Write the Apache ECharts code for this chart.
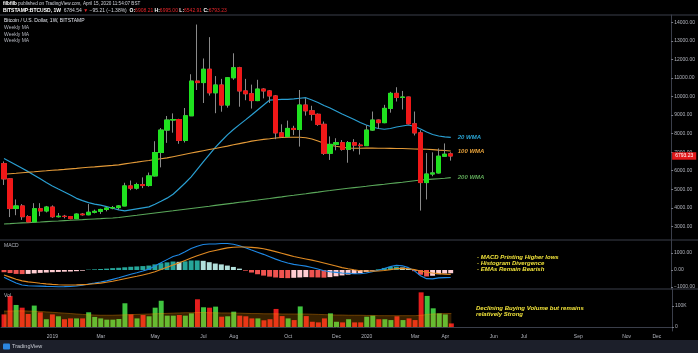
<!DOCTYPE html>
<html>
<head>
<meta charset="utf-8">
<title>BTCUSD 1W</title>
<script src="https://cdn.jsdelivr.net/npm/echarts@6.0.0/dist/echarts.min.js"></script>
<style>
  html, body { margin: 0; padding: 0; background: #000; }
  #chart { width: 698px; height: 353px; }
</style>
</head>
<body>
<div id="chart"></div>
<script>
// Bitstamp BTCUSD weekly bars, first bar = week of 12 Nov 2018
const startWeek = Date.UTC(2018, 10, 12);
const weekCount = 111; // time axis runs on to Dec 2020

const opens = [6380,5560,3960,4100,3520,3240,3950,3830,4040,3520,3545,3530,3415,3660,3625,3760,3810,3910,3990,4010,4100,5180,5060,5250,5200,5720,6980,8190,8730,8760,7630,8960,10830,10750,11470,10200,10620,9540,11010,11550,10300,10150,9780,10400,10300,10030,8040,7850,8280,8220,9540,9230,9040,8500,6940,7420,7510,7150,7510,7380,7350,8190,8730,8590,9360,10170,9950,9970,8530,8040,5360,5820,5880,6780,6908.21];
const highs = [6500,5600,4450,4200,3600,4250,4250,4100,4130,3720,3620,3560,3700,3720,4200,3900,3950,4050,4100,4140,5350,5470,5350,5640,5900,7590,8300,8950,9090,8800,9380,11200,13880,12050,13200,11100,10950,11050,12330,11600,10950,10640,10900,10450,10350,10080,8500,8700,8420,10350,9900,9500,9090,8650,7850,7750,7650,7600,7700,7500,8450,9190,8760,9550,10250,10500,10300,9990,9190,8180,6950,6990,7200,7470,6995.00];
const lows = [5230,3500,3600,3350,3200,3220,3550,3750,3460,3480,3430,3380,3390,3580,3600,3700,3670,3810,3920,3900,4090,4950,4980,5060,5140,5690,6180,7500,8050,7450,7520,8950,10350,9650,10050,9100,9180,9400,10900,9450,9800,9350,9750,9900,9650,7700,7780,7800,7920,7300,8970,8700,8420,6850,6580,7100,7080,6430,7050,6870,7350,8150,8250,8560,9130,9730,9300,8500,7900,3850,4450,5700,5850,6760,6542.91];
const closes = [5560,3960,4100,3520,3240,3950,3830,4040,3520,3545,3530,3415,3660,3625,3760,3810,3910,3990,4010,4100,5180,5060,5250,5200,5720,6980,8190,8730,8760,7630,8960,10830,10750,11470,10200,10620,9540,11010,11550,10300,10150,9780,10400,10300,10030,8040,7850,8280,8220,9540,9230,9040,8500,6940,7420,7510,7150,7510,7380,7350,8190,8730,8590,9360,10170,9950,9970,8530,8040,5360,5820,5880,6780,6888.44,6793.23];

// weekly moving averages as drawn on the chart
const wma20 = [6660,6485,6310,6130,5950,5760,5560,5360,5180,5015,4855,4690,4510,4385,4280,4200,4140,4060,3975,3890,3830,3885,3940,3995,4050,4195,4355,4520,4730,5030,5335,5670,6070,6470,6870,7255,7600,7930,8220,8485,8740,9005,9275,9545,9810,9825,9840,9850,9875,9905,9935,9810,9675,9515,9380,9220,9055,8910,8760,8600,8465,8355,8275,8235,8275,8355,8410,8465,8385,8250,8085,7950,7870,7820,7800];
const wma100 = [5805,5835,5860,5890,5915,5940,5970,5995,6025,6045,6070,6100,6125,6160,6185,6205,6235,6260,6285,6315,6370,6415,6460,6510,6550,6600,6645,6690,6755,6820,6885,6950,7015,7080,7140,7200,7265,7325,7395,7460,7525,7595,7645,7690,7725,7765,7790,7800,7805,7800,7775,7710,7600,7475,7370,7315,7265,7225,7210,7210,7215,7215,7210,7210,7205,7200,7195,7185,7170,7165,7155,7135,7110,7090,7065];
const wma200 = [3130,3145,3165,3185,3200,3220,3235,3255,3275,3290,3310,3325,3345,3360,3380,3400,3415,3435,3450,3475,3515,3555,3595,3640,3680,3720,3760,3800,3840,3885,3925,3965,4005,4045,4085,4130,4170,4210,4250,4295,4335,4380,4420,4465,4505,4550,4590,4635,4675,4720,4760,4805,4845,4890,4930,4975,5015,5055,5090,5125,5160,5200,5235,5270,5310,5345,5380,5420,5460,5495,5520,5545,5570,5595,5625];

// MACD pane
const macdLine = [-430,-600,-770,-880,-930,-940,-950,-965,-975,-985,-980,-970,-945,-900,-823,-770,-710,-640,-550,-460,-350,-250,-160,-60,50,230,430,610,790,900,1070,1260,1400,1500,1530,1530,1560,1560,1515,1430,1315,1180,1050,920,780,640,520,410,330,280,230,150,60,-40,-100,-140,-180,-200,-220,-220,-180,-105,-20,90,200,280,245,140,-50,-340,-510,-520,-465,-450,-445];
const signalLine = [-300,-420,-540,-640,-700,-740,-780,-815,-845,-870,-880,-880,-875,-860,-843,-810,-770,-720,-660,-590,-510,-440,-370,-290,-210,-100,30,160,290,420,560,700,840,960,1070,1150,1230,1300,1335,1350,1355,1330,1300,1250,1170,1080,990,890,790,720,650,580,500,410,320,230,140,70,10,-40,-60,-65,-60,-30,20,80,95,70,20,-60,-130,-180,-215,-240,-255];
const histogram = [-130,-180,-230,-240,-230,-200,-170,-150,-130,-115,-100,-90,-70,-40,20,40,60,80,110,130,160,190,210,230,260,330,400,450,500,480,510,560,560,540,460,380,330,260,180,80,-40,-150,-250,-330,-390,-440,-470,-480,-460,-440,-420,-430,-440,-450,-420,-370,-320,-270,-230,-180,-120,-40,40,120,180,200,150,70,-70,-280,-380,-340,-250,-210,-190];

// volume pane, thousands of BTC
const volumesK = [60,148,105,92,62,102,70,37,60,51,37,41,41,41,70,48,41,35,35,38,113,60,41,57,51,92,125,54,54,57,54,65,132,94,92,97,49,51,73,54,51,41,41,32,37,86,52,41,33,98,52,25,22,41,65,25,22,37,22,22,49,54,37,37,33,51,33,41,33,165,148,89,65,60,17];
const volumeMAK = [76,76,77,77,76,75,74,72,70,68,66,64,62,60,58,57,56,56,56,57,58,59,60,61,62,63,64,65,66,67,68,68,69,69,68,68,67,67,66,66,65,64,64,63,63,63,62,62,62,62,62,61,60,59,58,57,57,56,56,56,55,55,54,54,54,54,54,54,54,56,60,62,63,64,64];

// tick labels
const priceTicks = [3000,4000,5000,6000,7000,8000,9000,10000,11000,12000,13000,14000];
const macdTicks = [-1000,0,1000];
const volumeTicks = [0,100];
const xTickLabels = [
  ["2019-01-07","2019"],["2019-03-04","Mar"],["2019-05-06","May"],["2019-07-01","Jul"],
  ["2019-08-05","Aug"],["2019-10-07","Oct"],["2019-12-02","Dec"],["2020-01-06","2020"],
  ["2020-03-02","Mar"],["2020-04-06","Apr"],["2020-06-01","Jun"],["2020-07-06","Jul"],
  ["2020-09-07","Sep"],["2020-11-02","Nov"],["2020-12-07","Dec"],
];

const upColor = "#1fe21f";
const downColor = "#f01818";
const wickColor = "#8a8a8a";
const axisText = "#b2b5be";
const lineGray = "#3a3e4a";
const noteColor = "#f0e23a";
const font = "Liberation Sans";

let weeks = [];
for (let i = 0; i < weekCount; i++) {
  weeks.push(new Date(startWeek + i * 7 * 864e5).toISOString().slice(0, 10));
}
let tickMap = {};
xTickLabels.forEach((t) => { tickMap[t[0]] = t[1]; });

let wickData = opens.map((o, i) => [o, closes[i], lows[i], highs[i]]);
let bodyData = opens.map((o, i) => [o, closes[i], Math.min(o, closes[i]), Math.max(o, closes[i])]);

let histData = histogram.map((h, i) => {
  let prev = i > 0 ? histogram[i - 1] : h;
  let c;
  if (h >= 0) c = h >= prev ? "#26a69a" : "#b2dfdb";
  else c = h <= prev ? "#ef5350" : "#ffcdd2";
  return { value: h, itemStyle: { color: c } };
});
let volData = volumesK.map((v, i) => ({
  value: v,
  itemStyle: { color: closes[i] >= opens[i] ? "#3fc43f" : "#e41e1e" },
}));

const lastClose = closes[closes.length - 1];

function txt(x, y, text, fill, size, extra) {
  return {
    type: "text", x: x, y: y, silent: true, z: 50,
    style: Object.assign({
      text: text, fill: fill, fontSize: size, fontFamily: font, verticalAlign: "middle",
    }, extra || {}),
  };
}
function hline(y, x2) {
  return { type: "line", silent: true, z: 40, shape: { x1: 0, y1: y, x2: x2 || 698, y2: y }, style: { stroke: lineGray, lineWidth: 1 } };
}

let myChart = echarts.init(document.getElementById("chart"));

let option = {
  backgroundColor: "#000000",
  animation: false,
  textStyle: { fontFamily: font },
  grid: [
    { left: 1, right: 26, top: 15, height: 225 },
    { left: 1, right: 26, top: 240, height: 49 },
    { left: 1, right: 26, top: 289, height: 42 },
  ],
  xAxis: [
    { type: "category", gridIndex: 0, data: weeks, show: false },
    { type: "category", gridIndex: 1, data: weeks, show: false },
    {
      type: "category",
      gridIndex: 2,
      data: weeks,
      axisLine: { lineStyle: { color: lineGray } },
      axisTick: {
        alignWithLabel: true,
        length: 2,
        interval: (i, v) => tickMap[v] !== undefined,
        lineStyle: { color: "#787b86" },
      },
      axisLabel: {
        interval: (i, v) => tickMap[v] !== undefined,
        formatter: (v) => tickMap[v] || "",
        color: axisText,
        fontSize: 5,
        margin: 3,
      },
      splitLine: { show: false },
    },
  ],
  yAxis: [
    {
      type: "value", gridIndex: 0, position: "right",
      min: 2264, max: 14394,
      splitLine: { show: false },
      axisLine: { show: true, lineStyle: { color: lineGray } },
      axisTick: { show: true, customValues: priceTicks, length: 2, lineStyle: { color: "#787b86" } },
      axisLabel: { customValues: priceTicks, formatter: (v) => v.toFixed(2), color: axisText, fontSize: 5, margin: 3 },
    },
    {
      type: "value", gridIndex: 1, position: "right",
      min: -1118, max: 1765,
      splitLine: { show: false },
      axisLine: { show: true, lineStyle: { color: lineGray } },
      axisTick: { show: true, customValues: macdTicks, length: 2, lineStyle: { color: "#787b86" } },
      axisLabel: {
        customValues: macdTicks,
        formatter: (v) => (v < 0 ? "\u2212" : "") + Math.abs(v).toFixed(2),
        color: axisText, fontSize: 5, margin: 3,
      },
    },
    {
      type: "value", gridIndex: 2, position: "right",
      min: -19.05, max: 180.95,
      splitLine: { show: false },
      axisLine: { show: true, lineStyle: { color: lineGray } },
      axisTick: { show: true, customValues: volumeTicks, length: 2, lineStyle: { color: "#787b86" } },
      axisLabel: { customValues: volumeTicks, formatter: (v) => (v === 0 ? "0" : v + "K"), color: axisText, fontSize: 5, margin: 3 },
    },
  ],
  series: [
    {
      name: "wma20", type: "line", xAxisIndex: 0, yAxisIndex: 0, data: wma20,
      symbol: "none", z: 2, lineStyle: { color: "#2a9fd2", width: 1.2 },
      endLabel: { show: true, formatter: "20 WMA", color: "#2aa6d6", fontSize: 6, fontWeight: "bold", fontStyle: "italic", distance: 7 },
    },
    {
      name: "wma100", type: "line", xAxisIndex: 0, yAxisIndex: 0, data: wma100,
      symbol: "none", z: 2, lineStyle: { color: "#e39a38", width: 1.1 },
      endLabel: { show: true, formatter: "100 WMA", color: "#e8a23a", fontSize: 6, fontWeight: "bold", fontStyle: "italic", distance: 7 },
    },
    {
      name: "wma200", type: "line", xAxisIndex: 0, yAxisIndex: 0, data: wma200,
      symbol: "none", z: 2, lineStyle: { color: "#5aa85a", width: 1.1 },
      endLabel: { show: true, formatter: "200 WMA", color: "#5fa858", fontSize: 6, fontWeight: "bold", fontStyle: "italic", distance: 7 },
    },
    {
      name: "wicks", type: "candlestick", xAxisIndex: 0, yAxisIndex: 0, data: wickData,
      barWidth: "78%", z: 3,
      itemStyle: { color: wickColor, color0: wickColor, borderColor: wickColor, borderColor0: wickColor, borderWidth: 1 },
    },
    {
      name: "BTCUSD", type: "candlestick", xAxisIndex: 0, yAxisIndex: 0, data: bodyData,
      barWidth: "78%", z: 4,
      itemStyle: { color: upColor, color0: downColor, borderColor: upColor, borderColor0: downColor, borderWidth: 1 },
      markLine: {
        silent: true,
        symbol: ["none", "none"],
        lineStyle: { color: "rgba(0,0,0,0)" },
        label: {
          position: "end", distance: 1,
          formatter: lastClose.toFixed(2),
          color: "#ffffff", backgroundColor: "#e3191b",
          fontSize: 5, padding: [1.5, 3, 1, 3],
        },
        data: [{ yAxis: lastClose }],
      },
    },
    {
      name: "Histogram", type: "bar", xAxisIndex: 1, yAxisIndex: 1, data: histData, barWidth: "82%",
    },
    {
      name: "MACD", type: "line", xAxisIndex: 1, yAxisIndex: 1, data: macdLine,
      symbol: "none", z: 3, lineStyle: { color: "#1e88e5", width: 1.1 },
    },
    {
      name: "Signal", type: "line", xAxisIndex: 1, yAxisIndex: 1, data: signalLine,
      symbol: "none", z: 3, lineStyle: { color: "#e08a22", width: 1.1 },
    },
    {
      name: "Vol", type: "bar", xAxisIndex: 2, yAxisIndex: 2, data: volData, barWidth: "82%", z: 2,
    },
    {
      name: "Vol MA", type: "line", xAxisIndex: 2, yAxisIndex: 2, data: volumeMAK,
      symbol: "none", z: 3,
      lineStyle: { color: "rgba(255,150,0,0.35)", width: 1 },
      areaStyle: { color: "rgba(255,150,0,0.3)" },
    },
  ],
  graphic: [
    hline(15),
    hline(240),
    hline(289),
    { type: "rect", silent: true, z: 40, shape: { x: 0, y: 340, width: 698, height: 13 }, style: { fill: "#1c1f2a" } },
    { type: "rect", silent: true, z: 41, shape: { x: 3, y: 343.5, width: 7, height: 6, r: 1 }, style: { fill: "#2b86e0" } },
    txt(12, 346.5, "TradingView", "#c9ccd4", 5.5),
    txt(3, 4, "{b|filbfilb} published on TradingView.com, April 15, 2020 11:54:07 BST", "#d1d4dc", 4.6, {
      rich: { b: { fontWeight: "bold", fill: "#ffffff", fontSize: 4.6, fontFamily: font } },
    }),
    txt(3, 10.5, "{w|BITSTAMP:BTCUSD, 1W}  {v|6784.54} {r|\u25BC} {v|\u221295.21 (\u22121.38%)}  {w|O:}{r|6908.21} {w|H:}{r|6995.00} {w|L:}{r|6542.91} {w|C:}{r|6793.23}", "#d1d4dc", 5, {
      rich: {
        w: { fill: "#ffffff", fontWeight: "bold", fontSize: 5, fontFamily: font },
        v: { fill: "#d1d4dc", fontSize: 5, fontFamily: font },
        r: { fill: "#e8262b", fontSize: 5, fontFamily: font },
      },
    }),
    txt(4, 21, "Bitcoin / U.S. Dollar, 1W, BITSTAMP", "#e0e3eb", 5),
    txt(4, 27.7, "Weekly MA", "#b2b5be", 5),
    txt(4, 34.3, "Weekly MA", "#b2b5be", 5),
    txt(4, 41, "Weekly MA", "#b2b5be", 5),
    txt(4, 246, "MACD", "#b2b5be", 5),
    txt(4, 296, "Vol", "#b2b5be", 5),
    txt(477, 257, "- MACD Printing Higher lows", noteColor, 6, { fontWeight: "bold", fontStyle: "italic" }),
    txt(477, 263.3, "- Histogram Divergence", noteColor, 6, { fontWeight: "bold", fontStyle: "italic" }),
    txt(477, 269.6, "- EMAs Remain Bearish", noteColor, 6, { fontWeight: "bold", fontStyle: "italic" }),
    txt(476, 308, "Declining Buying Volume but remains", noteColor, 6, { fontWeight: "bold", fontStyle: "italic" }),
    txt(476, 314.3, "relatively Strong", noteColor, 6, { fontWeight: "bold", fontStyle: "italic" }),
  ],
};

myChart.setOption(option);
window.onresize = function () {
  myChart.resize();
};
</script>
</body>
</html>
